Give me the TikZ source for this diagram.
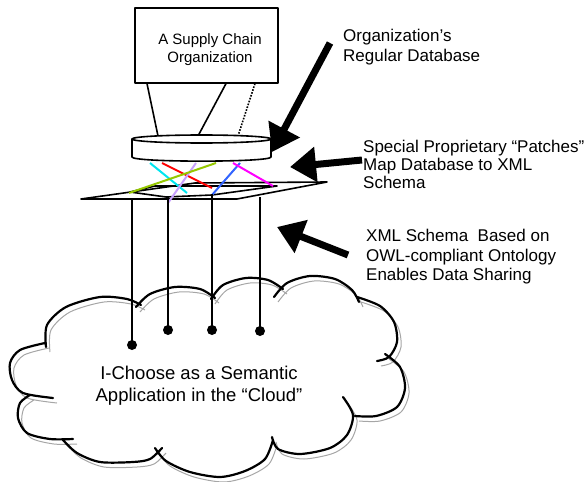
\documentclass[tikz,border=0pt]{standalone}
\usepackage{fontspec}
\setmainfont{Liberation Sans}
\usetikzlibrary{arrows.meta}
\newcommand\mycloudbumps{%
  plot[smooth] coordinates {(46,347) (47,325) (66,307) (100,297) (127,299) (141,305)}
  plot[smooth] coordinates {(136,307) (150,294) (175,287) (200,289) (215,298)}
  plot[smooth] coordinates {(211,299) (223,285) (246,278) (268,280) (283,289)}
  plot[smooth] coordinates {(274,297) (287,283) (310,276) (335,279) (352,290) (359,302)}
  plot[smooth] coordinates {(357,297) (380,306) (394,322) (397,342) (389,357) (377,361)}
  plot[smooth] coordinates {(385,354) (400,367) (405,388) (397,407) (376,416) (355,416)}
  plot[smooth] coordinates {(343,397) (353,415) (347,435) (330,448) (300,454) (278,449) (272,437)}
  plot[smooth] coordinates {(273,440) (265,459) (245,471) (220,477) (190,472) (166,461) (155,448)}
  plot[smooth] coordinates {(162,448) (150,459) (133,462) (100,462) (77,453) (63,440)}
  plot[smooth] coordinates {(30,395) (20,403) (18,418) (27,433) (50,439) (73,439)}
  plot[smooth] coordinates {(45,343) (20,350) (10,363) (12,380) (23,393) (53,398)}}
\begin{document}
\begin{tikzpicture}[x=1pt,y=-1pt,line join=round,
  thinbox/.style={draw,line width=1.6pt},
  thinline/.style={line width=1.6pt},
  pole/.style={line width=2.8pt},
  dotn/.style={circle,fill=black,inner sep=0pt,minimum size=10pt},
  bigarrow/.style={line width=7pt,-{Triangle[length=26pt,width=34pt]}},
  patch/.style={line width=2pt},
  lbl/.style={font=\fontsize{17}{19.5}\selectfont,align=left,anchor=west,inner sep=0pt},
  cloudline/.style={line width=2.2pt,line cap=round},
  cloudshadow/.style={line width=1pt,draw=black!35}]
\useasboundingbox (0,0) rectangle (585,481);
\definecolor{pcyan}{RGB}{0,230,240}
\definecolor{pred}{RGB}{255,0,0}
\definecolor{plav}{RGB}{200,160,255}
\definecolor{pgreen}{RGB}{150,200,0}
\definecolor{pblue}{RGB}{50,100,255}
\definecolor{pmag}{RGB}{255,0,255}

% organization box
\node[thinbox,minimum width=143pt,minimum height=75pt,inner sep=0pt] (org) at (206.5,45.5) {};
\node[font=\fontsize{15}{18}\selectfont,align=center,inner sep=0pt] (orgtext) at (210,49.5) {A Supply Chain\\Organization};

% links box -> database
\coordinate (b1) at (147,83.6);
\coordinate (b2) at (226,83.6);
\coordinate (b3) at (255,83.6);
\coordinate (c1) at (158,136);
\coordinate (c2) at (198,136);
\coordinate (c3) at (238,136);
\draw[thinline] (b1) -- (c1);
\draw[thinline] (b2) -- (c2);
\draw[line width=1.6pt,dash pattern=on 1.6pt off 1.4pt] (b3) -- (c3);

% database cylinder
\draw[thinline,fill=white] (132,139) -- (132,157) .. controls (132,162.5) and (271,162.5) .. (271,157) -- (271,139);
\draw[thinline,fill=white] (201.5,139) ellipse [x radius=69.5pt,y radius=4pt];

% schema plane
\draw[thinline] (81,199) -- (237,199) -- (327,182) -- (195,183) -- cycle;
\draw[thinline] (130,192) -- (166,197) -- (212,195) -- (277,186) -- (155,186) -- cycle;

% patches
\coordinate (t1) at (150,163); \coordinate (s1) at (187,193);
\coordinate (t2) at (162,163); \coordinate (s2) at (212,188);
\coordinate (t3) at (196,163); \coordinate (s3) at (168,203);
\coordinate (t4) at (216,163); \coordinate (s4) at (129,193);
\coordinate (t5) at (240,163); \coordinate (s5) at (212,195);
\coordinate (t6) at (233,163); \coordinate (s6) at (273,186);
\draw[patch,pcyan] (t1) -- (s1);
\draw[patch,pred] (t2) -- (s2);
\draw[patch,plav] (t3) -- (s3);
\draw[patch,pgreen] (t4) -- (s4);
\draw[patch,pblue] (t5) -- (s5);
\draw[patch,pmag] (t6) -- (s6);

% cloud
\draw[cloudshadow,shift={(4,5)}] \mycloudbumps;
\draw[cloudline] \mycloudbumps;

% poles into the cloud
\coordinate (p1) at (132,199);
\coordinate (p2) at (168,197);
\coordinate (p3) at (212,194);
\coordinate (p4) at (260,197);
\node[dotn] (d1) at (132,345) {};
\node[dotn] (d2) at (168,330) {};
\node[dotn] (d3) at (212,330) {};
\node[dotn] (d4) at (260,331) {};
\draw[pole] (p1) -- (d1.center);
\draw[pole] (p2) -- (d2.center);
\draw[pole] (p3) -- (d3.center);
\draw[pole] (p4) -- (d4.center);

\node[font=\fontsize{18.5}{22}\selectfont,align=center,inner sep=0pt] (ctext) at (199,385.5) {I-Choose as a Semantic\\Application in the “Cloud”};

% big arrows
\coordinate (a1s) at (330,43);  \coordinate (a1e) at (272,152);
\coordinate (a2s) at (362,160); \coordinate (a2e) at (290,167);
\coordinate (a3s) at (348,255); \coordinate (a3e) at (277,227);
\draw[bigarrow] (a1s) -- (a1e);
\draw[bigarrow] (a2s) -- (a2e);
\draw[bigarrow] (a3s) -- (a3e);

% labels
\node[lbl] (l1) at (343,47) {Organization’s\\Regular Database};
\node[lbl,font=\fontsize{17}{18}\selectfont] (l2) at (363,164) {Special Proprietary “Patches”\\Map Database to XML\\Schema};
\node[lbl] (l3) at (366,257) {XML Schema\ \ Based on\\OWL-compliant Ontology\\Enables Data Sharing};
\end{tikzpicture}
\end{document}
